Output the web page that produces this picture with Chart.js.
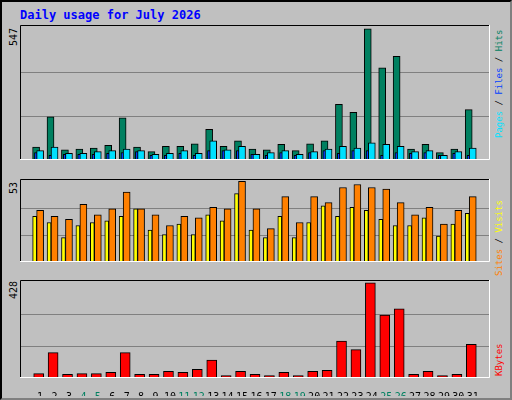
<!DOCTYPE html>
<html>
<head>
<meta charset="utf-8">
<script src="https://cdn.jsdelivr.net/npm/chart.js@4"></script>
<style>
  body { margin: 0; background: #fff; }
  #frame { position: absolute; left: 0; top: 0; width: 508px; height: 396px; background: #c0c0c0;
           border-top: 2px solid #000; border-left: 2px solid #000; border-right: 2px solid #808080; border-bottom: 2px solid #808080; }
  canvas { position: absolute; }
  .t { position: absolute; font-family: "DejaVu Sans Mono", monospace; font-size: 9px; line-height: 11px; white-space: nowrap; }
  .rot { transform-origin: left top; transform: rotate(-90deg); }
</style>
</head>
<body>
<div id="frame">
  <div class="t" style="left:18px;top:6px;color:#0000ff;font-weight:bold;font-size:12px;line-height:14px;">Daily usage for July 2026</div>
  <div class="t rot" style="left:6px;top:44px;font-size:10px;">547</div>
  <div class="t rot" style="left:6px;top:192px;font-size:10px;">53</div>
  <div class="t rot" style="left:6px;top:297px;font-size:10px;">428</div>
  <div class="t rot" style="left:492px;top:136px;"><span style="color:#00e0ff">Pages</span> / <span style="color:#0040ff">Files</span> / <span style="color:#008060">Hits</span></div>
  <div class="t rot" style="left:492px;top:274px;"><span style="color:#ff8000">Sites</span> / <span style="color:#ffff00">Visits</span></div>
  <div class="t rot" style="left:492px;top:374px;color:#ff0000">KBytes</div>
  <canvas id="top" style="left:18px;top:23px;width:470px;height:153px"></canvas>
  <canvas id="mid" style="left:18px;top:177px;width:470px;height:101px"></canvas>
  <canvas id="bot" style="left:18px;top:278px;width:470px;height:116px"></canvas>
</div>
<script>
const days = Array.from({length: 31}, (_, i) => i + 1)
const weekends = [4, 5, 11, 12, 18, 19, 25, 26]
const hits  = [54,180,42,46,50,61,176,54,35,57,57,68,128,57,80,46,42,65,39,68,80,232,199,547,385,433,46,65,31,46,210]
const pages = [39,54,28,28,35,39,46,39,24,28,39,28,80,42,57,24,31,39,24,35,46,57,50,72,65,57,35,39,20,35,50]
const files = [31,20,24,24,24,28,31,35,20,20,28,20,39,39,39,24,20,31,20,31,39,28,39,39,20,31,28,31,20,28,20]
const sites = [34,30,28,38,31,35,46,35,31,24,30,29,36,35,53,35,22,43,26,43,39,49,51,49,48,39,31,36,25,34,43]
const visits = [30,26,16,24,26,27,30,35,21,18,25,18,31,27,45,21,16,30,16,26,37,30,36,34,28,24,24,29,17,25,32]
const kbytes = [20,114,16,20,20,25,114,16,16,30,25,39,81,11,30,16,11,25,11,30,34,166,128,428,283,311,16,30,11,16,152]

const panelPlugin = {
    id: 'panel',
    beforeDraw(chart) {
        const a = chart.chartArea, c = chart.ctx
        c.save()
        c.fillStyle = '#c0c0c0'
        c.fillRect(a.left, a.top, a.width, a.height)
        c.restore()
    },
    afterDraw(chart) {
        const a = chart.chartArea, c = chart.ctx
        c.save()
        c.lineWidth = 1
        c.strokeStyle = '#000'
        c.beginPath()
        c.moveTo(a.left + 0.5, a.bottom); c.lineTo(a.left + 0.5, a.top + 0.5); c.lineTo(a.right, a.top + 0.5)
        c.stroke()
        c.strokeStyle = '#fff'
        c.beginPath()
        c.moveTo(a.right - 0.5, a.top); c.lineTo(a.right - 0.5, a.bottom - 0.5); c.lineTo(a.left, a.bottom - 0.5)
        c.stroke()
        c.restore()
    }
}

function bars(values, offset, width, color, order) {
    return {
        data: values.map((v, i) => ({x: days[i] + offset, y: v})),
        backgroundColor: color,
        borderColor: '#000',
        borderWidth: 1,
        borderSkipped: 'bottom',
        barThickness: width,
        grouped: false,
        order: order
    }
}

function makeChart(id, datasets, peak, showDays) {
    return new Chart(document.getElementById(id), {
        type: 'bar',
        data: {datasets: datasets},
        plugins: [panelPlugin],
        options: {
            responsive: false,
            animation: false,
            layout: {padding: 0},
            plugins: {legend: {display: false}, tooltip: {enabled: false}},
            scales: {
                x: {
                    type: 'linear', min: 0.13, max: 31.67,
                    display: showDays,
                    grid: {display: false},
                    border: {display: false},
                    afterBuildTicks: s => { s.ticks = days.map(d => ({value: d})) },
                    afterFit: s => { s.height = 18 },
                    ticks: {
                        autoSkip: false, maxRotation: 0, padding: 5,
                        font: {family: 'DejaVu Sans Mono', size: 10},
                        color: ctx => weekends.includes(ctx.tick.value) ? '#008060' : '#000'
                    }
                },
                y: {
                    min: 0, max: peak * 1.03,
                    afterFit: s => { s.width = 0 },
                    afterBuildTicks: s => { s.ticks = [peak / 3, peak * 2 / 3].map(v => ({value: v})) },
                    ticks: {display: false},
                    border: {display: false},
                    grid: {color: '#808080', drawTicks: false}
                }
            }
        }
    })
}

function size(id, w, h) {
    const c = document.getElementById(id)
    c.width = w; c.height = h
}
size('top', 470, 153); size('mid', 470, 101); size('bot', 470, 116)

makeChart('top', [
    bars(hits, -0.28, 7, '#008060', 3),
    bars(files, -0.29, 3, '#0040ff', 2),
    bars(pages, 0, 7, '#00e0ff', 1)
], Math.max(...hits), false)

makeChart('mid', [
    bars(visits, -0.38, 4, '#ffff00', 2),
    bars(sites, 0, 7, '#ff8000', 1)
], Math.max(...sites), false)

makeChart('bot', [
    bars(kbytes, -0.1, 10, '#ff0000', 1)
], Math.max(...kbytes), true)
</script>
</body>
</html>
